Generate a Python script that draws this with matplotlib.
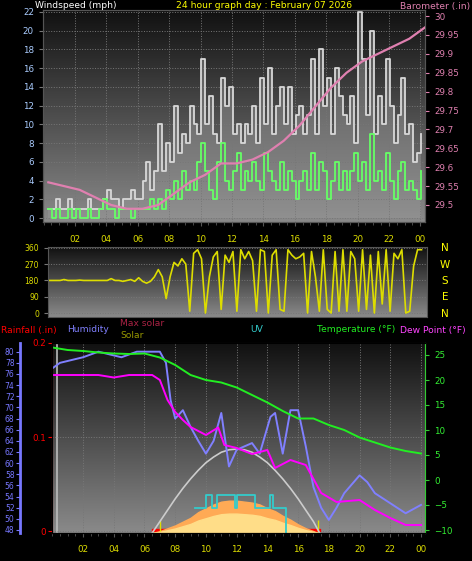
import numpy as np
import matplotlib
matplotlib.use("Agg")
import matplotlib.pyplot as plt

# ---------------- data ----------------
gust = [1,1,2,1, 1,2,1,1, 1,1,2,1, 1,1,2,3, 2,2,1,2, 2,3,2,2, 4,6,3,5, 10,5,8,6,
        12,7,9,8, 12,10,9,17, 10,13,9,8, 15,12,14,9, 10,8,10,9, 12,8,15,10,
        16,9,12,14, 10,14,9,11, 12,9,11,17, 9,18,12,15, 9,16,13,11, 10,13,8,22,
        17,11,20,9, 13,10,17,12, 8,11,15,9, 10,6,7,9]
speed = [1,0,1,0, 0,1,0,1, 0,0,1,0, 0,1,2,1, 1,0,1,1, 1,0,1,1, 1,1,2,1, 2,1,3,2,
         4,2,5,3, 4,3,6,8, 5,3,2,6, 8,4,3,5, 7,3,5,4, 6,4,3,7, 5,4,3,6, 3,5,4,2,
         4,5,3,7, 3,6,5,2, 4,6,3,5, 3,5,7,4, 6,3,9,4, 5,3,7,4, 2,5,6,3, 4,3,2,5]
direction = [180,180,180,180, 185,180,180,180, 182,180,180,180, 180,180,180,180,
             190,180,180,175, 180,185,175,195, 175,165,175,200, 240,200,80,200,
             280,260,300,270, 10,330,350,300, 0,200,310,340, 20,320,280,340,
             10,350,300,340, 290,10,350,340, 0,320,350,20, 10,350,320,300,
             310,330,0,340, 200,10,350,20, 0,340,10,350, 10,340,300,10,
             350,20,320,0, 340,50,350,10, 330,300,350,0, 10,260,350,350]
wind_hours = [0.3 + 0.25 * i for i in range(96)]

baro_hours = [0.3 + i for i in range(25)]
baro = [29.56,29.55,29.54,29.52,29.50,29.49,29.49,29.50,29.53,29.56,29.58,29.61,
        29.61,29.62,29.64,29.67,29.71,29.76,29.81,29.85,29.88,29.90,29.92,29.94,29.97]

temp_hours = list(range(25))
temp = [26.5,26,25.8,25.5,25.3,25.2,25.3,24.5,23,21,20,19.5,18.5,17,15.5,13.8,
        12.3,12.3,11,10,8.5,7.5,6.5,5.8,5.3]

dew_hours = [0,1,2,3,4,5,6,6.5,7,7.5,8,8.5,9,10,10.8,11.2,12,13,14,14.5,15.5,16.5,
             17.5,18.5,20,21,22,23,24]
dew = [21,21,21,21,20.5,21,21,21,20,16,13.6,12,10.6,9,10.5,7,6.4,5.2,6,2.4,4,3,
       -2.6,-4.4,-4,-6,-7.6,-9,-9]

hum_hours = [0,0.5,2,3,4.5,5.5,7,7.4,7.7,8,8.5,9,9.5,10,10.5,11,11.5,12,13,13.5,
             14.2,14.5,15,15.5,16,16.5,17,17.5,18,18.5,19,20,20.5,21,22,23,24]
hum = [77,78,79,80,79,80,80,78,71.3,68,69.5,66.5,64,61.7,64,69,59.4,62.4,63.6,61.7,
       68.3,69,61.7,69.5,69.5,63,55.7,52,49.8,52,54.6,57.8,56.6,54.6,52.8,51,52.5]

solar_hours = [6.5,7,7.5,8,8.5,9,9.5,10,10.5,11,11.5,12,12.5,13,13.5,14,14.5,15,
               15.5,16,16.5,17,17.3]
solar = [0,10,25,40,60,80,110,130,150,165,170,170,165,160,150,130,115,90,70,45,25,10,0]
maxsolar_hours = [6.5,7,7.5,8,8.5,9,9.5,10,10.5,11,11.5,12,12.5,13,13.5,14,14.5,15,
                  15.5,16,16.5,17,17.4]
maxsolar = [0,60,120,180,235,285,330,370,400,425,438,442,438,425,400,370,330,285,
            235,180,120,60,0]
uv_hours = [9.3,10.0,10.4,10.7,11.9,12.0,13.2,14.2,14.35,15.2]
uv = [2,3,2,3,2,3,2,3,2,0]
rain_hours = [6.5, 17.4]
rain = [0, 0]

xticks = [2,4,6,8,10,12,14,16,18,20,22,24]
xlabels = ["02","04","06","08","10","12","14","16","18","20","22","00"]

# ---------------- helpers ----------------
W, H = 472, 561
fig = plt.figure(figsize=(W/100, H/100), dpi=100, facecolor="black")
plt.rcParams['font.family'] = ['DejaVu Sans']
FS = 6.3
HF = 6.6

def rect(l, t, r, b):
    return [l/W, 1-b/H, (r-l)/W, (b-t)/H]

grad = np.linspace(0, 1, 256).reshape(-1, 1)
def background(ax):
    ax.set_facecolor("black")
    ax.imshow(grad, extent=[0,1,0,1], transform=ax.transAxes, aspect="auto",
              cmap=matplotlib.colors.LinearSegmentedColormap.from_list("g", ["#8a8a8a", "#111111"]),
              origin="lower", zorder=-10)
    for s in ax.spines.values():
        s.set_color("#555555")

def style_x(ax, show=True):
    ax.set_xticks(xticks)
    ax.set_xticklabels(xlabels if show else [])
    ax.tick_params(axis="x", colors="#555555", labelcolor="#dddd00", labelsize=FS, length=3, pad=6)
    ax.set_xticks(np.arange(0, 24.5, 0.5), minor=True)
    ax.tick_params(axis="x", which="minor", colors="#555555", length=2)

# ---------------- top panel ----------------
ax1 = fig.add_axes(rect(43, 10, 425, 222))
background(ax1)
ax1.set_xlim(-0.04, 24.3)
ax1.set_ylim(-0.4, 22.2)
ax1.grid(True, color="#777777", linestyle=":", linewidth=0.7)
ax1.fill_between(wind_hours, gust, 0, step="post", color="#999999", alpha=0.45, lw=0, zorder=1)
ax1.step(wind_hours, gust, where="post", color="#d8d8d8", lw=1.3, zorder=2)
ax1.step(wind_hours, speed, where="post", color="#66ff66", lw=1.3, zorder=3)
ax1.set_yticks(range(0, 23, 2))
ax1.tick_params(axis="y", colors="#777777", labelcolor="#aaccff", labelsize=FS, length=3)
style_x(ax1)
ax1b = ax1.twinx()
ax1b.set_ylim(29.455, 30.016)
ax1b.plot(baro_hours, baro, color="#e080b0", lw=1.6, zorder=4)
ax1b.set_yticks([29.5,29.55,29.6,29.65,29.7,29.75,29.8,29.85,29.9,29.95,30])
ax1b.set_yticklabels(["29.5","29.55","29.6","29.65","29.7","29.75","29.8","29.85","29.9","29.95","30"])
ax1b.tick_params(axis="y", colors="#e080b0", labelcolor="#e080b0", labelsize=FS, length=3)
for s in ax1b.spines.values():
    s.set_color("#555555")

fig.text(35/W, 1-6/H, "Windspeed (mph)", color="white", fontsize=HF, va="center")
fig.text(264/W, 1-6/H, "24 hour graph day : February 07 2026", color="#ffff00", fontsize=HF, va="center", ha="center")
fig.text(470/W, 1-6/H, "Barometer (.in)", color="#e080b0", fontsize=HF, va="center", ha="right")

# ---------------- middle panel ----------------
ax2 = fig.add_axes(rect(48, 247, 427, 317))
background(ax2)
ax2.set_xlim(0.28, 24.4)
ax2.set_ylim(-22, 365)
ax2.grid(True, axis="y", color="#777777", linestyle=":", linewidth=0.7)
ax2.plot(wind_hours, direction, color="#dddd00", lw=1.2)
ax2.set_yticks([0,90,180,270,360])
ax2.tick_params(axis="y", colors="#777777", labelcolor="#dddd00", labelsize=5.5, length=3)
ax2.set_xticks([])
for i, c in enumerate("NWSEN"):
    fig.text(445/W, 1-(248+16.5*i)/H, c, color="#ffff00", fontsize=7.5, ha="center", va="center")

# ---------------- bottom panel ----------------
ax3 = fig.add_axes(rect(52, 343, 425, 533))
background(ax3)
ax3.set_xlim(-0.02, 24.26)
ax3.set_ylim(-0.002, 0.2)
ax3.grid(True, color="#777777", linestyle=":", linewidth=0.7)
style_x(ax3)
ax3.set_yticks([0, 0.1, 0.2])
ax3.set_yticklabels(["0", "0.1", "0.2"])
ax3.tick_params(axis="y", colors="red", labelcolor="red", labelsize=FS, length=3, pad=1)
ax3.spines["left"].set_color("red")
ax3.fill_between(rain_hours, rain, 0.002, color="red", zorder=6)
ax3.axvline(0.3, color="#bbbbbb", lw=1.2, zorder=1)

ax_sol = ax3.twinx()
ax_sol.set_ylim(0, 1000)
ax_sol.axis("off")
ax_sol.fill_between(solar_hours, solar, color="#ffaa55", zorder=2)
ax_sol.fill_between(solar_hours, [v*0.6 for v in solar], color="#ffdd88", zorder=3)
ax_sol.plot(maxsolar_hours, maxsolar, color="#cccccc", lw=1.2, zorder=4)
ax_sol.vlines([7.0, 17.3], 0, 70, color="#dddd00", lw=1)

ax_uv = ax3.twinx()
ax_uv.set_ylim(0, 15)
ax_uv.axis("off")
ax_uv.step(uv_hours, uv, where="post", color="#33cccc", lw=1.3)

ax_h = ax3.twinx()
ax_h.set_ylim(47.46, 81.56)
ax_h.yaxis.set_ticks_position("left")
ax_h.spines["left"].set_position(("outward", 23))
ax_h.spines["left"].set_visible(True)
ax_h.spines["left"].set_color("#7777ff")
ax_h.spines["left"].set_linewidth(2)
ax_h.spines["right"].set_visible(False)
ax_h.set_yticks(range(48, 81, 2))
ax_h.tick_params(axis="y", colors="#7777ff", labelcolor="#7777ff", labelsize=5.5, length=3, pad=1)
ax_h.plot(hum_hours, hum, color="#8080ff", lw=1.4, zorder=5)

ax_t = ax3.twinx()
ax_t.set_ylim(-10.6, 27.4)
ax_t.set_yticks([-10,-5,0,5,10,15,20,25])
ax_t.tick_params(axis="y", colors="#33cc33", labelcolor="#33ee33", labelsize=FS, length=3)
ax_t.spines["right"].set_color("#33cc33")
ax_t.plot(dew_hours, dew, color="#ff00ff", lw=1.4)
ax_t.plot(temp_hours, temp, color="#22ee22", lw=1.4)

fig.text(1/W, 1-330/H, "Rainfall (.in)", color="red", fontsize=HF, va="center")
fig.text(67/W, 1-330/H, "Humidity", color="#8080ff", fontsize=HF, va="center")
fig.text(120/W, 1-323/H, "Max solar", color="#aa2244", fontsize=HF, va="center")
fig.text(120/W, 1-335/H, "Solar", color="#999900", fontsize=HF, va="center")
fig.text(257/W, 1-330/H, "UV", color="#33cccc", fontsize=HF, va="center", ha="center")
fig.text(317/W, 1-330/H, "Temperature (°F)", color="#22ee22", fontsize=HF, va="center")
fig.text(400/W, 1-330/H, "Dew Point (°F)", color="#ff44ff", fontsize=HF, va="center")

fig.savefig("out.png", dpi=100, facecolor="black")
